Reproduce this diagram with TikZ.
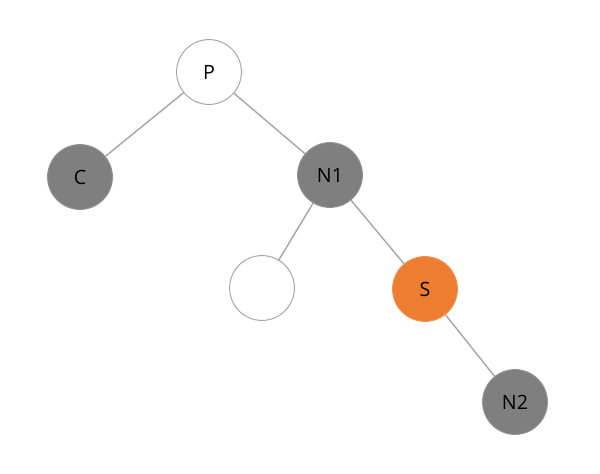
\documentclass[tikz,border=0pt]{standalone}
\usepackage{fontspec}
\setmainfont{Open Sans}
\usetikzlibrary{positioning}
\definecolor{nodegray}{HTML}{7F7F7F}
\definecolor{edgegray}{HTML}{A6A6A6}
\definecolor{sibling}{HTML}{ED7D31}

\tikzset{
  vtx/.style={circle,minimum size=1.62cm,inner sep=0pt,line width=0.7pt,
    font=\fontsize{14}{16}\selectfont},
  blackvtx/.style={vtx,fill=nodegray,draw=nodegray!85!white},
  whitevtx/.style={vtx,fill=white,draw=edgegray},
  redvtx/.style={vtx,fill=sibling,draw=sibling!85!white},
  link/.style={edgegray,line width=1pt}
}

\begin{document}
\begin{tikzpicture}[x=0.025cm,y=-0.025cm]
\useasboundingbox (0,0) rectangle (600,474);
\node[whitevtx] (p) at (209,72) {P};
\node[blackvtx] (c) at (80,177) {C};
\node[blackvtx] (n1) at (330,175) {N1};
\node[whitevtx] (nil) at (262,288) {};
\node[redvtx] (s) at (425,289) {S};
\node[blackvtx] (n2) at (515,402) {N2};
\begin{scope}[on background layer/.try]
\foreach \a/\b in {p/c,p/n1,n1/nil,n1/s,s/n2}{
  \draw[link] (\a) -- (\b);
}
\end{scope}
\end{tikzpicture}
\end{document}
